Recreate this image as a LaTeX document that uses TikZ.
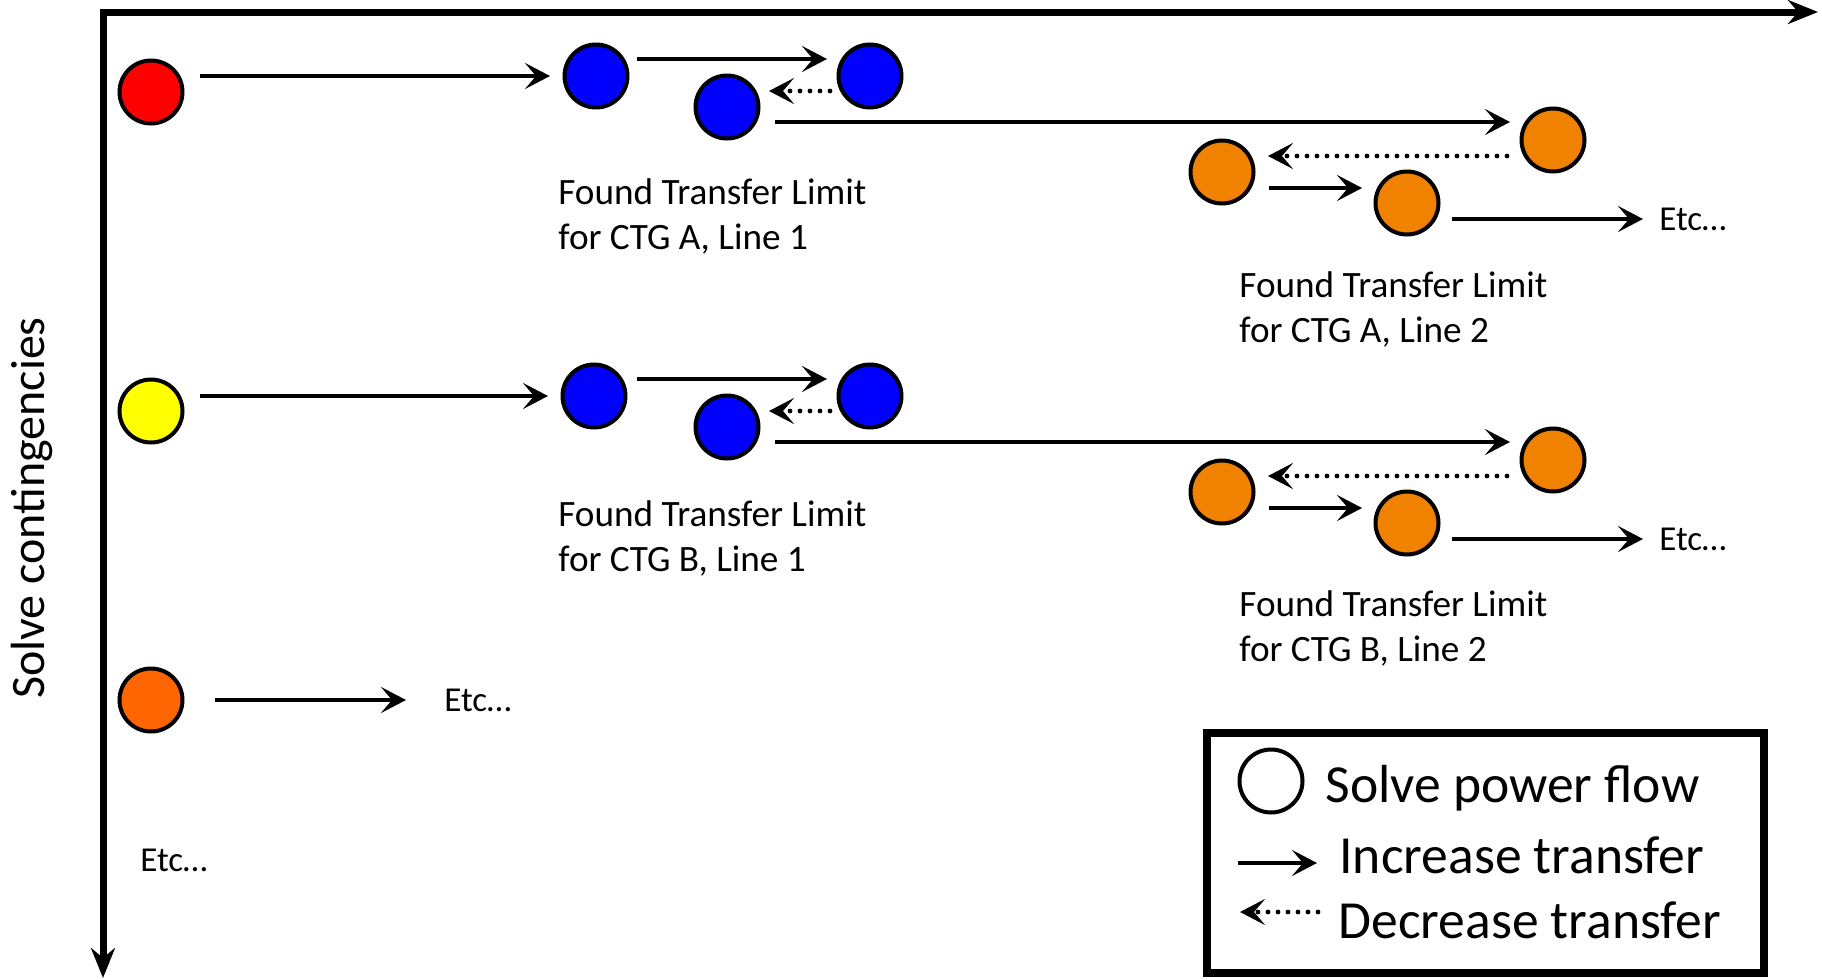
\documentclass[tikz,border=0pt]{standalone}
\usepackage{fontspec}
\setmainfont{Carlito}
\usetikzlibrary{arrows.meta}
\definecolor{pfred}{RGB}{255,0,0}
\definecolor{pfblue}{RGB}{0,0,255}
\definecolor{pfyellow}{RGB}{255,255,0}
\definecolor{pforange}{RGB}{240,130,0}
\definecolor{pfdeep}{RGB}{255,102,0}
\begin{document}
\begin{tikzpicture}[x=0.5pt,y=-0.5pt,
  pf/.style={circle,draw=black,line width=2pt,minimum size=31.5pt,inner sep=0pt},
  inc/.style={line width=2.4pt,-{Stealth[length=12.5pt,width=13pt,inset=5.5pt]}},
  dec/.style={line width=2.4pt,line cap=round,dash pattern=on 0pt off 5pt,-{Stealth[length=12.5pt,width=13pt,inset=5.5pt]}},
  axis/.style={line width=3.5pt,line join=miter,{Stealth[length=15pt,width=12pt,inset=5pt]}-{Stealth[length=15pt,width=12pt,inset=5pt]}},
  lbl/.style={font=\fontsize{18.6}{22.5}\selectfont,align=left,inner sep=0pt,anchor=west},
  etc/.style={font=\fontsize{17.5}{21}\selectfont,inner sep=0pt,anchor=west},
  leg/.style={font=\fontsize{26.8}{32}\selectfont,inner sep=0pt,anchor=west}]
\useasboundingbox (0,0) rectangle (1822,980);
% axes
\coordinate (ax0) at (103,12);
\coordinate (axx) at (1818,12);
\coordinate (axy) at (103,978);
\draw[axis] (axx) -- (ax0) -- (axy);
\node[rotate=90,font=\fontsize{24}{28}\selectfont,inner sep=0pt] (ylab) at (32,508) {Solve contingencies};
% row A
\node[pf,fill=pfred] (ra) at (151,92) {};
\node[pf,fill=pfblue] (a1) at (596,76) {};
\node[pf,fill=pfblue] (a2) at (870,76) {};
\node[pf,fill=pfblue] (a3) at (727,107) {};
\node[pf,fill=pforange] (a4) at (1553,140) {};
\node[pf,fill=pforange] (a5) at (1222,172) {};
\node[pf,fill=pforange] (a6) at (1407,203) {};
\node[etc] (etcA) at (1659,219) {Etc…};
\node[lbl] (la1) at (558,216) {Found Transfer Limit\\for CTG A, Line 1};
\node[lbl] (la2) at (1239,309) {Found Transfer Limit\\for CTG A, Line 2};
\draw[inc,shorten <=7.75pt,shorten >=6.25pt] ([yshift=8pt]ra.east) -- (a1.west);
\draw[inc,shorten <=3.75pt,shorten >=4.75pt] ([yshift=8.5pt]a1.east) -- ([yshift=8.5pt]a2.west);
\draw[dec,shorten <=3.25pt,shorten >=4.25pt] ([yshift=-7.5pt]a2.west) -- ([yshift=8pt]a3.east);
\draw[inc,shorten <=7.25pt,shorten >=4.75pt] ([yshift=-7.5pt]a3.east) -- ([yshift=9pt]a4.west);
\draw[dec,shorten <=6.25pt,shorten >=6.25pt] ([yshift=-8pt]a4.west) -- ([yshift=8pt]a5.east);
\draw[inc,shorten <=6.75pt,shorten >=5.75pt] ([yshift=-8pt]a5.east) -- ([yshift=7.5pt]a6.west);
\draw[inc,shorten <=5.75pt,shorten >=8pt] ([yshift=-8pt]a6.east) -- (etcA.west);
% row B
\node[pf,fill=pfyellow] (rb) at (151,411) {};
\node[pf,fill=pfblue] (b1) at (594,396) {};
\node[pf,fill=pfblue] (b2) at (870,396) {};
\node[pf,fill=pfblue] (b3) at (727,427) {};
\node[pf,fill=pforange] (b4) at (1553,460) {};
\node[pf,fill=pforange] (b5) at (1222,492) {};
\node[pf,fill=pforange] (b6) at (1407,523) {};
\node[etc] (etcB) at (1659,539) {Etc…};
\node[lbl] (lb1) at (558,538) {Found Transfer Limit\\for CTG B, Line 1};
\node[lbl] (lb2) at (1239,628) {Found Transfer Limit\\for CTG B, Line 2};
\draw[inc,shorten <=7.75pt,shorten >=6.25pt] ([yshift=7.5pt]rb.east) -- (b1.west);
\draw[inc,shorten <=4.75pt,shorten >=4.75pt] ([yshift=8.5pt]b1.east) -- ([yshift=8.5pt]b2.west);
\draw[dec,shorten <=3.25pt,shorten >=4.25pt] ([yshift=-7.5pt]b2.west) -- ([yshift=8pt]b3.east);
\draw[inc,shorten <=7.25pt,shorten >=4.75pt] ([yshift=-7.5pt]b3.east) -- ([yshift=9pt]b4.west);
\draw[dec,shorten <=6.25pt,shorten >=6.25pt] ([yshift=-8pt]b4.west) -- ([yshift=8pt]b5.east);
\draw[inc,shorten <=6.75pt,shorten >=5.75pt] ([yshift=-8pt]b5.east) -- ([yshift=7.5pt]b6.west);
\draw[inc,shorten <=5.75pt,shorten >=8pt] ([yshift=-8pt]b6.east) -- (etcB.west);
% row C
\node[pf,fill=pfdeep] (rc) at (151,700) {};
\node[etc] (etcC) at (444,700) {Etc…};
\node[etc] (etcD) at (140,860) {Etc…};
\draw[inc,shorten <=15.25pt,shorten >=19pt] (rc.east) -- (etcC.west);
% legend
\draw[line width=4pt] (1207,733) rectangle (1764,973);
\node[pf,fill=white] (lgc) at (1271,781) {};
\node[leg] (lg1) at (1325,788) {Solve power flow};
\node[leg] (lg2) at (1339,855) {Increase transfer};
\node[leg] (lg3) at (1338,920) {Decrease transfer};
\coordinate (li1) at (1238,863);
\coordinate (li2) at (1317,863);
\coordinate (ld1) at (1318,912);
\coordinate (ld2) at (1240,912);
\draw[inc] (li1) -- (li2);
\draw[dec] (ld1) -- (ld2);
\end{tikzpicture}
\end{document}
